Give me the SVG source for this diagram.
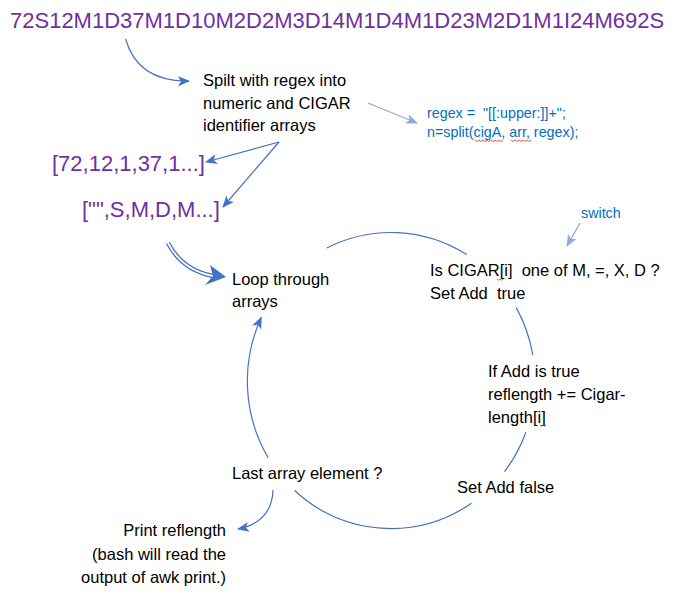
<svg xmlns="http://www.w3.org/2000/svg" width="677" height="603" viewBox="0 0 677 603">
<defs>
<style>
text{font-family:"Liberation Sans",Arial,sans-serif;}
.t{font-size:16.5px;fill:#000;}
.p{font-size:22px;fill:#7030a0;}
.c{font-size:14.3px;fill:#0070c0;}
.pre{white-space:pre;}
.ln{fill:none;stroke:#4472c4;stroke-width:1.2;}
.lt{fill:none;stroke:#8faadc;stroke-width:1.3;}
.sq{fill:none;stroke:#e03030;stroke-width:0.8;}
</style>
<marker id="ah" markerUnits="userSpaceOnUse" markerWidth="14" markerHeight="12" refX="11" refY="5" orient="auto">
<path d="M0,0 L12,5 L0,10 L3,5 z" fill="#4472c4"/>
</marker>
<marker id="al" markerUnits="userSpaceOnUse" markerWidth="14" markerHeight="12" refX="11" refY="5" orient="auto">
<path d="M0,0 L12,5 L0,10 L3,5 z" fill="#8faadc"/>
</marker>
</defs>
<rect width="677" height="603" fill="#fff"/>

<g id="connectors">
<path class="ln" d="M125.5,39 Q138,82 189,81" marker-end="url(#ah)"/>
<path class="lt" d="M368,103 L417,123" marker-end="url(#al)"/>
<path class="lt" d="M580,223 L567,246" marker-end="url(#al)"/>
<path class="ln" d="M279,142 L206,162" marker-end="url(#ah)"/>
<path class="ln" d="M279,142 L223,207" marker-end="url(#ah)"/>
<path d="M168,243 Q182,270 213,276" fill="none" stroke="#4472c4" stroke-width="4.4"/>
<path d="M168,243 Q182,270 213,276" fill="none" stroke="#fff" stroke-width="1.8"/>
<path d="M226,277 L210,265 L213,276 L205,285 z" fill="#4472c4"/>
<path class="ln" d="M326.8,248 A144 148 0 0 1 466.7,254.6"/>
<path class="ln" d="M516.3,307.6 A144 148 0 0 1 532.8,355"/>
<path class="ln" d="M525.9,432.3 A144 148 0 0 1 504.5,471.7"/>
<path class="ln" d="M471.5,503.2 A144 148 0 0 1 294.6,490.5"/>
<path class="ln" d="M268.2,457.8 A144 148 0 0 1 261.3,317.5" marker-end="url(#ah)"/>
<path class="ln" d="M273,490 Q272,522 238,529" marker-end="url(#ah)"/>
</g>

<g id="title"><text x="10" y="28" font-size="22" fill="#7030a0">72S12M1D37M1D10M2D2M3D14M1D4M1D23M2D1M1I24M692S</text></g>

<g id="split">
<text class="t" x="203" y="86">Spilt with regex into</text>
<text class="t" x="203" y="108.5">numeric and CIGAR</text>
<text class="t" x="203" y="131">identifier arrays</text>
</g>

<g id="regex">
<text class="c pre" x="427" y="117.5">regex =  "[[:upper:]]+";</text>
<text class="c" x="427" y="136.5">n=split(cigA, arr, regex);</text>
<path class="sq" d="M475,140 l2,1.5 l2,-1.5 l2,1.5 l2,-1.5 l2,1.5 l2,-1.5 l2,1.5 l2,-1.5 l2,1.5 l2,-1.5 l2,1.5 l2,-1.5 l2,1.5 l2,-1.5"/>
<path class="sq" d="M511,140 l2,1.5 l2,-1.5 l2,1.5 l2,-1.5 l2,1.5 l2,-1.5 l2,1.5 l2,-1.5 l2,1.5 l2,-1.5"/>
</g>

<g id="switch"><text class="c" x="581" y="218">switch</text></g>

<g id="nums"><text class="p" x="52" y="170.5">[72,12,1,37,1...]</text></g>
<g id="ids"><text class="p" x="82" y="216.5">["",S,M,D,M...]</text></g>

<g id="loop">
<text class="t" x="232" y="285">Loop through</text>
<text class="t" x="232" y="307">arrays</text>
</g>

<g id="iscigar">
<text class="t pre" x="430" y="276">Is CIGAR[i]  one of M, =, X, D ?</text>
<text class="t pre" x="430" y="299">Set Add  true</text>
<path class="sq" d="M497,279 l1.5,1.2 l1.5,-1.2 l1.5,1.2 l1.5,-1.2"/>
</g>

<g id="ifadd">
<text class="t" x="488" y="377">If Add is true</text>
<text class="t" x="488" y="400">reflength += Cigar-</text>
<text class="t" x="488" y="423">length[i]</text>
<path class="sq" d="M540,425 l1.5,1.2 l1.5,-1.2 l1.5,1.2 l1.5,-1.2"/>
</g>

<g id="setfalse"><text class="t" x="457" y="493">Set Add false</text></g>

<g id="last"><text class="t" x="232" y="479">Last array element ?</text></g>

<g id="print">
<text class="t" x="226" y="536" text-anchor="end">Print reflength</text>
<text class="t" x="226" y="560" text-anchor="end">(bash will read the</text>
<text class="t" x="226" y="583" text-anchor="end">output of awk print.)</text>
</g>
</svg>
